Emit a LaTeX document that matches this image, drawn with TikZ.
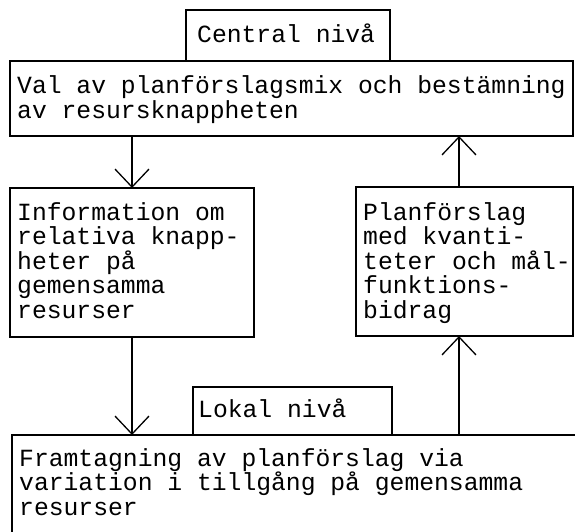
\documentclass[tikz,border=0pt]{standalone}
\usepackage{fontspec}
\setmonofont{Liberation Mono}
\usetikzlibrary{arrows.meta}
\begin{document}
\begin{tikzpicture}[x=1pt,y=-1pt,
  box/.style={draw, line width=1.3pt, inner sep=0pt, outer sep=0pt, anchor=north west},
  txt/.style={font=\ttfamily\fontsize{24.7}{24.5}\selectfont, align=left, inner sep=0pt, anchor=base west},
  flow/.style={line width=1.3pt, -{Straight Barb[length=18pt,width=34pt,line width=1.3pt]}}]
\useasboundingbox (0,0) rectangle (575,532);
\clip (0,0) rectangle (575,532);

% frames
\node[box, minimum width=204pt, minimum height=51pt] (central) at (186,10) {};
\node[box, minimum width=563pt, minimum height=75pt] (plan) at (10,61) {};
\node[box, minimum width=244pt, minimum height=149pt] (info) at (10,188) {};
\node[box, minimum width=217pt, minimum height=149pt] (prop) at (356,187) {};
\node[box, minimum width=199pt, minimum height=48pt] (local) at (193,387) {};
\node[box, minimum width=580pt, minimum height=120pt] (gen) at (12,435) {};

% texts (the base anchor of a multi-line node sits on its last line)
\node[txt] (tcentral) at (197,43) {Central nivå};
\node[txt] (tplan) at (17,118) {Val av planförslagsmix och bestämning\\av resursknappheten};
\node[txt] (tinfo) at (17,318) {Information om\\relativa knapp-\\heter på\\gemensamma\\resurser};
\node[txt] (tprop) at (363,318) {Planförslag\\med kvanti-\\teter och mål-\\funktions-\\bidrag};
\node[txt] (tlocal) at (198,417) {Lokal nivå};
\node[txt] (tgen) at (19,515) {Framtagning av planförslag via\\variation i tillgång på gemensamma\\resurser};

% flows between levels
\coordinate (xl) at (132,0);
\coordinate (xr) at (459,0);
\draw[flow] (xl |- plan.south) -- (xl |- info.north);
\draw[flow] (xl |- info.south) -- (xl |- gen.north);
\draw[flow] (xr |- gen.north) -- (xr |- prop.south);
\draw[flow] (xr |- prop.north) -- (xr |- plan.south);
\end{tikzpicture}
\end{document}
